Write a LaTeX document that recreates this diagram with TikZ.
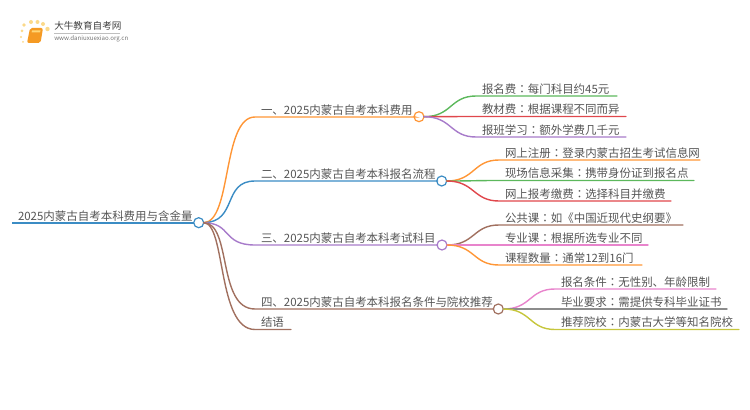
\documentclass[tikz,border=0pt]{standalone}
\usetikzlibrary{calc}
\usepackage{fontspec}
\setmainfont{Noto Sans CJK SC}
\newfontfamily\tcfont{Noto Sans CJK TC}
\newcommand{\cc}{{\tcfont ：}}
\definecolor{txt}{HTML}{555555}
\definecolor{cOrange}{HTML}{FF9636}
\definecolor{cBlue}{HTML}{3B8CC4}
\definecolor{cPurple}{HTML}{A77BCA}
\definecolor{cBrown}{HTML}{A1705F}
\definecolor{cGreen}{HTML}{5CB85C}
\definecolor{cRed}{HTML}{E0474C}
\definecolor{cPink}{HTML}{E884CC}
\definecolor{cGray}{HTML}{8C8C8C}
\definecolor{cOlive}{HTML}{C6C63C}
\definecolor{sunDot}{HTML}{FBD98A}
\definecolor{bookBody}{HTML}{F59A23}
\definecolor{bookLabel}{HTML}{FFD777}
\tikzset{
  leaf/.style={inner sep=0pt,outer sep=0pt,anchor=south west,text width=#1*0.75pt,align=left,
    font=\fontsize{8.6pt}{10pt}\selectfont,text=txt,text height=8pt,text depth=2.2pt},
  hub/.style={circle,draw=#1,fill=white,line width=0.9pt,minimum size=7.5pt,inner sep=0pt,outer sep=0pt},
  conn/.style={line width=1.05pt,draw=#1,line cap=round},
  logotext/.style={inner sep=0pt,anchor=west}
}
\begin{document}
\begin{tikzpicture}[x=0.75pt,y=-0.75pt]
\useasboundingbox (0,0) rectangle (750,410);
% logo
\foreach \px/\py/\pr in {24/25/1.8,31/22/2,37.5/22/2,43/24/2,47.5/29/2.2,22/31/1.5,21/37/1.2,23/42/1}
  \fill[sunDot] (\px,\py) circle (\pr);
\fill[bookBody,rounded corners=1.5pt] (30,28) -- (43,28) -- (40.5,43) -- (27,43) -- cycle;
\fill[bookLabel] (32,30.5) -- (40.5,30.5) -- (40,32.5) -- (31.5,32.5) -- cycle;
\node[logotext,text=black!75,font=\fontsize{7.2pt}{8pt}\selectfont] (logoa) at (54,26) {大牛教育自考网};
\draw[black!25,line width=0.4pt] (54,33.5) -- (120,33.5);
\node[logotext,text=black!55,font=\fontsize{4.6pt}{5pt}\selectfont] (logob) at (54,38.5) {www.daniuxuexiao.org.cn};
% hubs
\node[hub=cBlue] (root) at (198.7,222.7) {};
\node[hub=cOrange] (h1) at (419,116.7) {};
\node[hub=cBlue] (h2) at (441.7,181) {};
\node[hub=cPurple] (h3) at (442,245) {};
\node[hub=cBrown] (h4) at (498.3,309) {};
% titles
\node[leaf=182] (t0) at (18,223) {2025内蒙古自考本科费用与含金量};
\node[leaf=154] (b1) at (261,117) {一、2025内蒙古自考本科费用};
\node[leaf=177] (b2) at (261,181) {二、2025内蒙古自考本科报名流程};
\node[leaf=177] (b3) at (261,245) {三、2025内蒙古自考本科考试科目};
\node[leaf=233] (b4) at (261,309) {四、2025内蒙古自考本科报名条件与院校推荐};
\node[leaf=30] (b5) at (261,329.5) {结语};
% leaves
\node[leaf=135] (a1) at (482,96) {报名费\cc 每门科目约45元};
\node[leaf=144] (a2) at (482,116.5) {教材费\cc 根据课程不同而异};
\node[leaf=144] (a3) at (482,137) {报班学习\cc 额外学费几千元};
\node[leaf=195] (c1) at (505,160) {网上注册\cc 登录内蒙古招生考试信息网};
\node[leaf=189] (c2) at (505,180.5) {现场信息采集\cc 携带身份证到报名点};
\node[leaf=166] (c3) at (505,201) {网上报考缴费\cc 选择科目并缴费};
\node[leaf=178] (d1) at (505,225) {公共课\cc 如《中国近现代史纲要》};
\node[leaf=143] (d2) at (505,245) {专业课\cc 根据所选专业不同};
\node[leaf=137] (d3) at (505,265) {课程数量\cc 通常12到16门};
\node[leaf=155] (e1) at (561,289) {报名条件\cc 无性别、年龄限制};
\node[leaf=166] (e2) at (561,309) {毕业要求\cc 需提供专科毕业证书};
\node[leaf=178] (e3) at (561,329.5) {推荐院校\cc 内蒙古大学等知名院校};
% root
\draw[line width=1.6pt,draw=cBlue] (12,222.7) -- (root.west);
% main branches
\draw[conn=cOrange] (root.east) .. controls (232,222) and (222,117) .. (255,117) -- (b1.south west) -- (b1.south east) -- (h1.west);
\draw[conn=cBlue] (root.east) .. controls (238,222) and (222,181) .. (255,181) -- (b2.south west) -- (b2.south east) -- (h2.west);
\draw[conn=cPurple] (root.east) .. controls (232,223) and (222,245) .. (255,245) -- (b3.south west) -- (b3.south east) -- (h3.west);
\draw[conn=cBrown] (root.east) .. controls (232,223) and (217,309) .. (255,309) -- (b4.south west) -- (b4.south east) -- (h4.west);
\draw[conn=cBrown] (root.east) .. controls (226,223) and (217,329.5) .. (255,329.5) -- (b5.south west) -- (b5.south east);
% leaf connectors
\foreach \hb/\lf/\col in {h1/a1/cGreen,h1/a2/cRed,h1/a3/cPurple,h2/c1/cOrange,h2/c2/cGreen,h2/c3/cRed,h3/d1/cBrown,h3/d2/cPink,h3/d3/cOrange,h4/e1/cPink,h4/e2/cGray,h4/e3/cOlive}
  \draw[conn=\col] (\hb.east) .. controls +(28,0) and ($(\lf.south west)+(-32,0)$) .. ($(\lf.south west)+(-6,0)$) -- (\lf.south west) -- (\lf.south east);
\end{tikzpicture}
\end{document}
